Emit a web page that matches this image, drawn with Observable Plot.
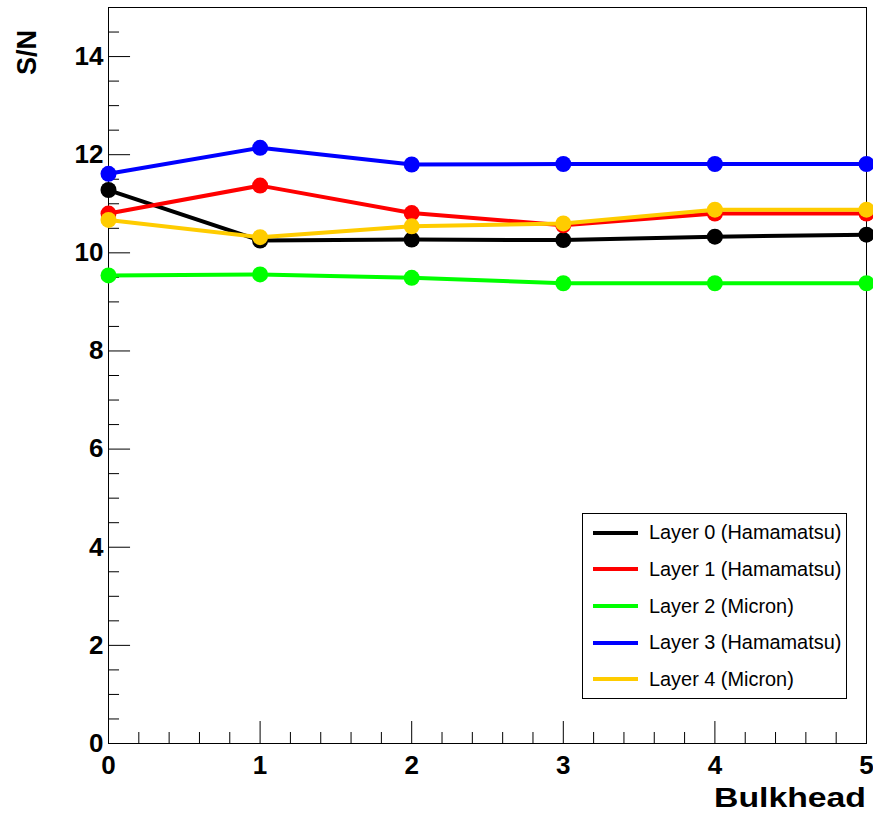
<!DOCTYPE html>
<html>
<head>
<meta charset="utf-8">
<script src="https://cdn.jsdelivr.net/npm/d3@7"></script>
<script src="https://cdn.jsdelivr.net/npm/@observablehq/plot@0.6"></script>
<style>
  body { margin: 0; background: #fff; }
  #chart { position: relative; width: 873px; height: 816px; }
  .legend {
    position: absolute; left: 582px; top: 513px; width: 263px; height: 184px;
    border: 1px solid #000; background: #fff;
    font-family: "Liberation Sans", Arial, sans-serif; font-size: 19.9px; color: #000;
  }
  .legend .row { position: absolute; left: 0; height: 24px; display: flex; align-items: center; white-space: nowrap; }
  .legend .sw { width: 45px; height: 4px; margin-left: 10px; margin-right: 11px; }
</style>
</head>
<body>
<div id="chart"></div>
<script>
// Bulkhead positions and signal-to-noise per silicon layer
const bulkhead = [0, 1, 2, 3, 4, 5];
const layerNames = [
  "Layer 0 (Hamamatsu)",
  "Layer 1 (Hamamatsu)",
  "Layer 2 (Micron)",
  "Layer 3 (Hamamatsu)",
  "Layer 4 (Micron)"
];
const layerColors = ["#000000", "#ff0000", "#00ff00", "#0000ff", "#ffcc00"];
const layer0 = [11.28, 10.25, 10.27, 10.26, 10.33, 10.37];
const layer1 = [10.80, 11.37, 10.81, 10.56, 10.80, 10.80];
const layer2 = [9.54, 9.56, 9.49, 9.38, 9.38, 9.38];
const layer3 = [11.61, 12.14, 11.80, 11.81, 11.81, 11.81];
const layer4 = [10.67, 10.32, 10.54, 10.60, 10.88, 10.88];
const layerValues = [layer0, layer1, layer2, layer3, layer4];

// Axis ticks
const xMajorTicks = [0, 1, 2, 3, 4, 5];
const yMajorTicks = [0, 2, 4, 6, 8, 10, 12, 14];
const xMinorTicks = d3.range(0, 5.001, 0.2).map(v => +v.toFixed(2)).filter(v => !xMajorTicks.includes(v));
const yMinorTicks = d3.range(0, 15.001, 0.5).filter(v => !yMajorTicks.includes(v));

const font = "'Liberation Sans', Arial, Helvetica, sans-serif";

// One line + markers pair per layer, drawn in layer order
const seriesMarks = layerValues.flatMap((vals, i) => {
  const rows = bulkhead.map((b, j) => ({ bulkhead: b, sn: vals[j] }));
  return [
    Plot.line(rows, { x: "bulkhead", y: "sn", stroke: layerColors[i], strokeWidth: 4 }),
    Plot.dot(rows, { x: "bulkhead", y: "sn", fill: layerColors[i], r: 8 })
  ];
});

const plot = Plot.plot({
  width: 873,
  height: 816,
  marginLeft: 108,
  marginRight: 7,
  marginTop: 7,
  marginBottom: 73,
  style: { fontFamily: font, background: "#fff", overflow: "visible" },
  x: { domain: [0, 5] },
  y: { domain: [0, 15] },
  marks: [
    Plot.frame({ stroke: "#000", strokeWidth: 1 }),
    // inward ticks along the bottom and left axes
    Plot.ruleX(xMinorTicks, { y1: 0, y2: 0.224, stroke: "#000", strokeWidth: 1 }),
    Plot.ruleX(xMajorTicks, { y1: 0, y2: 0.448, stroke: "#000", strokeWidth: 1 }),
    Plot.ruleY(yMinorTicks, { x1: 0, x2: 0.0728, stroke: "#000", strokeWidth: 1 }),
    Plot.ruleY(yMajorTicks, { x1: 0, x2: 0.1455, stroke: "#000", strokeWidth: 1 }),
    Plot.axisX(xMajorTicks, { tickSize: 0, tickPadding: 12, fontSize: 26, fontWeight: "bold", label: null, tickFormat: d => String(d) }),
    Plot.axisY(yMajorTicks, { tickSize: 0, tickPadding: 5, fontSize: 26, fontWeight: "bold", label: null, tickFormat: d => String(d) }),
    ...seriesMarks
  ]
});

const svg = d3.select(plot);
svg.append("text")
  .attr("transform", "translate(36,30) rotate(-90)")
  .attr("text-anchor", "end")
  .attr("font-family", font)
  .attr("font-weight", "bold")
  .attr("font-size", 27)
  .attr("fill", "#000")
  .text("S/N");
svg.append("text")
  .attr("x", 866)
  .attr("y", 807)
  .attr("text-anchor", "end")
  .attr("font-family", font)
  .attr("font-weight", "bold")
  .attr("font-size", 27)
  .attr("textLength", 152)
  .attr("lengthAdjust", "spacingAndGlyphs")
  .attr("fill", "#000")
  .text("Bulkhead");

const chart = document.getElementById("chart");
chart.appendChild(plot);

// Legend box
const legend = document.createElement("div");
legend.className = "legend";
layerNames.forEach((name, i) => {
  const row = document.createElement("div");
  row.className = "row";
  row.style.top = (18.7 + i * 36.65 - 12) + "px";
  const sw = document.createElement("span");
  sw.className = "sw";
  sw.style.background = layerColors[i];
  const label = document.createElement("span");
  label.textContent = name;
  row.appendChild(sw);
  row.appendChild(label);
  legend.appendChild(row);
});
chart.appendChild(legend);
</script>
</body>
</html>
